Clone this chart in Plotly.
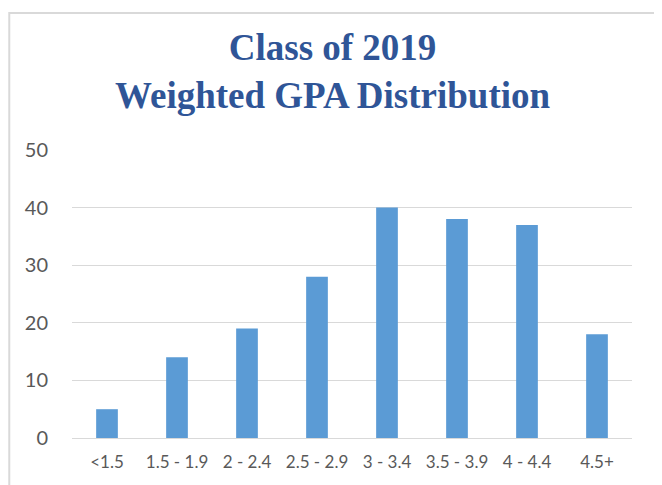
import plotly.graph_objects as go

categories = ["<1.5", "1.5 - 1.9", "2 - 2.4", "2.5 - 2.9", "3 - 3.4", "3.5 - 3.9", "4 - 4.4", "4.5+"]
counts = [5, 14, 19, 28, 40, 38, 37, 18]
y_ticks = [0, 10, 20, 30, 40, 50]

fig = go.Figure(go.Bar(x=categories, y=counts, marker=dict(color="#5B9BD5", line=dict(width=0))))

fig.update_layout(
    width=654, height=477,
    margin=dict(l=64, r=30, t=142, b=47),
    paper_bgcolor="white", plot_bgcolor="white",
    bargap=0.69,
    showlegend=False,
    annotations=[dict(
        text="<b>Class of 2019</b><br><b>Weighted GPA Distribution</b>",
        xref="paper", yref="paper", x=0.466, y=1.274, xanchor="center", yanchor="middle",
        showarrow=False,
        font=dict(family="Liberation Serif", size=37, color="#2F5597"),
    )],
    shapes=[dict(type="rect", xref="paper", yref="paper", x0=-0.112, x1=1.048, y0=-0.2, y1=1.476,
                 line=dict(color="#D9D9D9", width=2), layer="below")],
)
fig.update_xaxes(
    tickfont=dict(family="Lato", size=17, color="#595959"),
    showgrid=False, showline=False, ticks="", ticklabelstandoff=12,
)
fig.update_yaxes(
    range=[0, 50], tickvals=y_ticks,
    tickfont=dict(family="Lato", size=20, color="#595959"),
    showgrid=True, gridcolor="#D9D9D9", gridwidth=1,
    zeroline=True, zerolinecolor="#D9D9D9", zerolinewidth=1,
    showline=False, ticks="", ticklabelstandoff=23,
)

fig.write_html("out.html")
